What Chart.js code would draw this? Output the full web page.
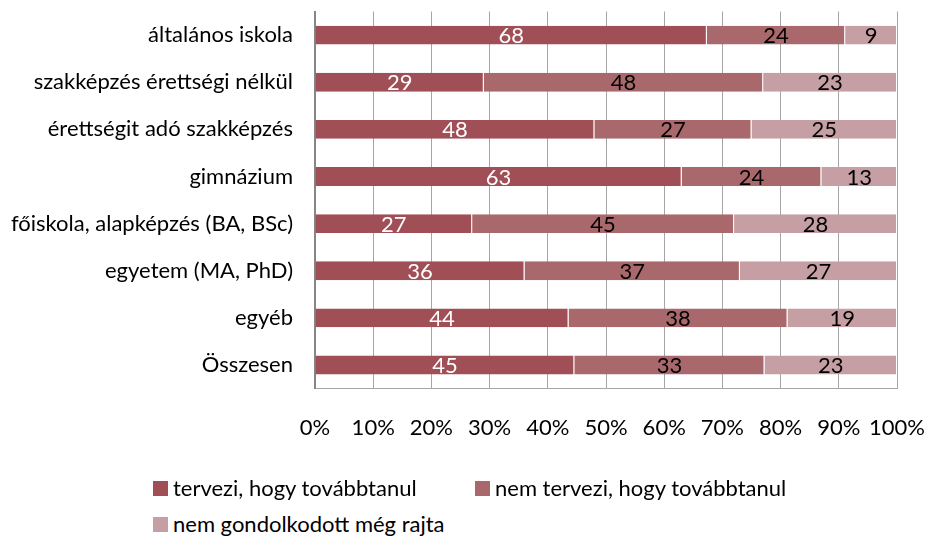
<!DOCTYPE html>
<html>
  <head>
    <meta charset="utf-8">
    <title>Továbbtanulási tervek</title>
    <script src="https://cdn.jsdelivr.net/npm/chart.js"></script>
    <style>
      body { margin: 0; background: #fff; font-family: Lato, sans-serif; }
      #wrap { position: relative; width: 927px; height: 539px; }
      #chartBox { position: absolute; left: 0; top: 0; width: 927px; height: 477px; }
      .legend { position: absolute; font-size: 22px; line-height: 26px; color: #000; display: flex; align-items: center; white-space: nowrap; }
      .legend span.box { display: inline-block; width: 15px; height: 15px; margin-right: 5px; }
    </style>
  </head>
  <body>
    <div id="wrap">
      <div id="chartBox"><canvas id="grafico"></canvas></div>
      <div id="legenda"></div>
    </div>

    <script>
      // kategóriák és sorozatok
      const kategoriak = [
        'általános iskola',
        'szakképzés érettségi nélkül',
        'érettségit adó szakképzés',
        'gimnázium',
        'főiskola, alapképzés (BA, BSc)',
        'egyetem (MA, PhD)',
        'egyéb',
        'Összesen'
      ];
      const tervezi = [68, 29, 48, 63, 27, 36, 44, 45];
      const nemTervezi = [24, 48, 27, 24, 45, 37, 38, 33];
      const nemGondolkodott = [9, 23, 25, 13, 28, 27, 19, 23];
      const sorozatNevek = ['tervezi, hogy továbbtanul', 'nem tervezi, hogy továbbtanul', 'nem gondolkodott még rajta'];
      const szinek = ['#a14f56', '#a9686c', '#c59fa3'];
      const cimkeSzinek = ['#ffffff', '#000000', '#000000'];

      const sorozatok = [tervezi, nemTervezi, nemGondolkodott];
      // 100%-os halmozás: soronként arányosítunk
      const osszegek = kategoriak.map((_, i) => sorozatok.reduce((s, arr) => s + arr[i], 0));
      const aranyok = sorozatok.map(arr => arr.map((v, i) => v / osszegek[i] * 100));

      // saját felirat plugin (datalabels helyett)
      const ertekCimkek = {
        id: 'ertekCimkek',
        afterDatasetsDraw(chart) {
          const ctx = chart.ctx;
          ctx.save();
          ctx.font = '22px Lato, sans-serif';
          ctx.textAlign = 'center';
          ctx.textBaseline = 'middle';
          chart.data.datasets.forEach((ds, di) => {
            chart.getDatasetMeta(di).data.forEach((bar, i) => {
              const x = (bar.x + bar.base) / 2;
              ctx.fillStyle = cimkeSzinek[di];
              ctx.fillText(String(sorozatok[di][i]), x, bar.y + 1);
            });
          });
          ctx.restore();
        }
      };

      new Chart(document.getElementById('grafico'), {
        type: 'bar',
        data: {
          labels: kategoriak,
          datasets: aranyok.map((adat, di) => ({
            label: sorozatNevek[di],
            data: adat,
            backgroundColor: szinek[di],
            borderColor: 'rgba(255,255,255,0.5)',
            borderWidth: { right: 1, left: 0, top: 0, bottom: 0 },
            borderSkipped: false,
            categoryPercentage: 0.5,
            barPercentage: 0.8
          }))
        },
        options: {
          indexAxis: 'y',
          responsive: true,
          maintainAspectRatio: false,
          animation: false,
          layout: { padding: { top: 11.5, right: 30, bottom: 10, left: 0 } },
          plugins: {
            legend: { display: false },
            tooltip: { enabled: false }
          },
          scales: {
            x: {
              stacked: true,
              min: 0,
              max: 100,
              afterFit: (scale) => { scale.paddingLeft = 0; scale.paddingRight = 0; },
              ticks: {
                stepSize: 10,
                padding: 26,
                maxRotation: 0,
                minRotation: 0,
                autoSkip: false,
                color: '#000',
                font: { family: 'Lato', size: 22 },
                callback: v => v + '%'
              },
              grid: { color: '#a6a6a6', drawTicks: false },
              border: { color: '#a6a6a6', width: 1 }
            },
            y: {
              stacked: true,
              afterFit: (scale) => { scale.width = 315; scale.paddingTop = 0; scale.paddingBottom = 0; },
              ticks: {
                padding: 22,
                color: '#000',
                font: { family: 'Lato', size: 22 }
              },
              grid: { display: false, drawTicks: false },
              border: { color: '#868686', width: 2 }
            }
          }
        },
        plugins: [ertekCimkek]
      });

      // jelmagyarázat
      const helyek = [[153, 488], [475, 488], [153, 524]];
      const legenda = document.getElementById('legenda');
      sorozatNevek.forEach((nev, i) => {
        const d = document.createElement('div');
        d.className = 'legend';
        d.style.left = helyek[i][0] + 'px';
        d.style.top = (helyek[i][1] - 13) + 'px';
        d.innerHTML = '<span class="box" style="background:' + szinek[i] + '"></span>' + nev;
        legenda.appendChild(d);
      });
    </script>
  </body>
</html>
